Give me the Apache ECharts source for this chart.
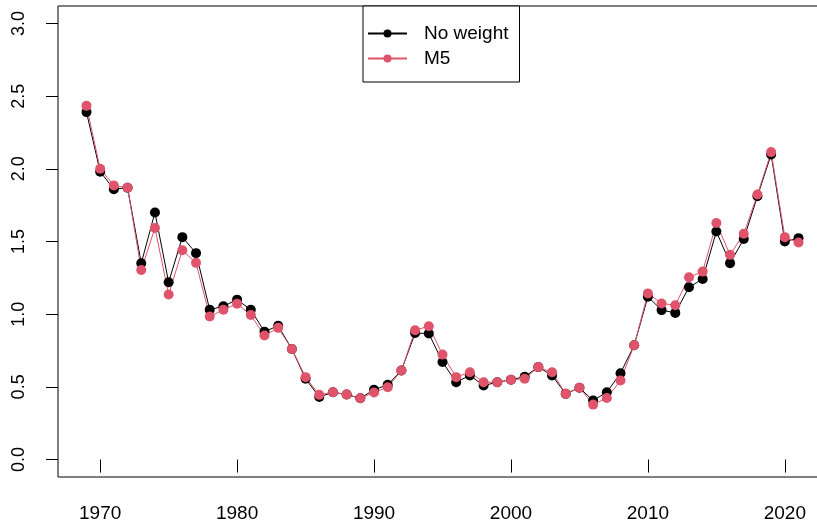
<!DOCTYPE html>
<html>
  <head>
    <meta charset="utf-8" />
    <title>No weight vs M5</title>
    <script src="https://cdn.jsdelivr.net/npm/echarts@6/dist/echarts.min.js"></script>
    <style>
      html, body { margin: 0; padding: 0; background: #fff; }
    </style>
  </head>
  <body>
    <div id="main" style="width: 817px;height: 529px;"></div>
    <script type="text/javascript">
      var years = [1969, 1970, 1971, 1972, 1973, 1974, 1975, 1976, 1977, 1978,
        1979, 1980, 1981, 1982, 1983, 1984, 1985, 1986, 1987, 1988,
        1989, 1990, 1991, 1992, 1993, 1994, 1995, 1996, 1997, 1998,
        1999, 2000, 2001, 2002, 2003, 2004, 2005, 2006, 2007, 2008,
        2009, 2010, 2011, 2012, 2013, 2014, 2015, 2016, 2017, 2018,
        2019, 2020, 2021]
      var noWeight = [2.39, 1.98, 1.86, 1.87, 1.35, 1.70, 1.22, 1.53, 1.42, 1.03,
        1.055, 1.10, 1.03, 0.88, 0.92, 0.76, 0.556, 0.43, 0.463, 0.447,
        0.422, 0.48, 0.514, 0.613, 0.87, 0.867, 0.671, 0.532, 0.579, 0.509,
        0.532, 0.549, 0.57, 0.636, 0.579, 0.452, 0.494, 0.406, 0.463, 0.594,
        0.786, 1.12, 1.028, 1.009, 1.185, 1.242, 1.569, 1.351, 1.517, 1.811,
        2.099, 1.50, 1.523]
      var m5 = [2.433, 2.00, 1.885, 1.87, 1.304, 1.593, 1.136, 1.44, 1.353, 0.984,
        1.03, 1.072, 0.994, 0.853, 0.906, 0.76, 0.567, 0.445, 0.463, 0.447,
        0.422, 0.461, 0.498, 0.613, 0.89, 0.917, 0.722, 0.567, 0.601, 0.532,
        0.532, 0.549, 0.556, 0.636, 0.601, 0.452, 0.494, 0.378, 0.424, 0.544,
        0.786, 1.143, 1.074, 1.062, 1.254, 1.293, 1.627, 1.408, 1.553, 1.823,
        2.115, 1.53, 1.493]
      var xTicks = [1970, 1980, 1990, 2000, 2010, 2020]
      var yTicks = [0, 0.5, 1, 1.5, 2, 2.5, 3]

      var myChart = echarts.init(document.getElementById('main'), null, { renderer: 'canvas' });

      function pairs(vals) {
        return years.map(function (y, i) { return [y, vals[i]]; });
      }

      var font = 'Liberation Sans, Arial, sans-serif'
      var option = {
        backgroundColor: '#fff',
        animation: false,
        grid: {
          left: 58, right: -10, top: 6, bottom: 52,
          show: true, borderColor: '#000', borderWidth: 1,
          outerBoundsMode: 'none'
        },
        legend: {
          orient: 'vertical',
          left: 363, top: 6,
          backgroundColor: '#fff',
          borderColor: '#000', borderWidth: 1, borderRadius: 0,
          padding: [18, 11, 14, 4],
          itemWidth: 39, itemHeight: 10, itemGap: 6,
          textStyle: { fontSize: 19, color: '#000', fontFamily: font, padding: [0, 0, 0, 12] },
          data: ['No weight', 'M5']
        },
        xAxis: {
          type: 'value',
          min: 1966.92, max: 2023.08,
          splitLine: { show: false },
          axisLine: { show: false },
          axisTick: { show: true, length: 13, inside: false, customValues: xTicks, lineStyle: { color: '#000' } },
          axisLabel: {
            customValues: xTicks, fontSize: 19, color: '#000', fontFamily: font, margin: 27,
            formatter: function (v) { return String(v); }
          }
        },
        yAxis: {
          type: 'value',
          min: -0.12, max: 3.12,
          splitLine: { show: false },
          axisLine: { show: false },
          axisTick: { show: true, length: 12, customValues: yTicks, lineStyle: { color: '#000' } },
          axisLabel: {
            customValues: yTicks, fontSize: 18, color: '#000', fontFamily: font,
            rotate: 90, margin: 30,
            formatter: function (v) { return v.toFixed(1); }
          }
        },
        series: [
          {
            name: 'No weight', type: 'line', data: pairs(noWeight),
            symbol: 'circle', symbolSize: 10, showAllSymbol: true,
            color: '#000',
            lineStyle: { color: '#000', width: 1 },
            itemStyle: { color: '#000' }
          },
          {
            name: 'M5', type: 'line', data: pairs(m5),
            symbol: 'circle', symbolSize: 10, showAllSymbol: true,
            color: '#DF536B',
            lineStyle: { color: '#DF536B', width: 1 },
            itemStyle: { color: '#DF536B' }
          }
        ]
      }
      myChart.setOption(option);
    </script>
  </body>
</html>
